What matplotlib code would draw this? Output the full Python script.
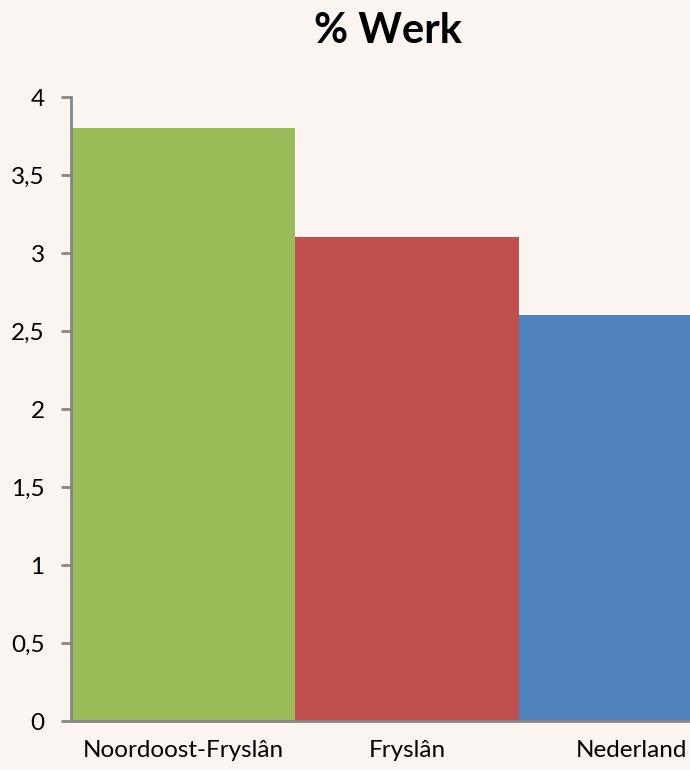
import matplotlib.pyplot as plt

categories = ["Noordoost-Fryslân", "Fryslân", "Nederland"]
values = [3.8, 3.1, 2.6]
colors = ["#9BBB59", "#C0504D", "#4F81BD"]
yticks = [0, 0.5, 1, 1.5, 2, 2.5, 3, 3.5, 4]
ytick_labels = ["0", "0,5", "1", "1,5", "2", "2,5", "3", "3,5", "4"]

plt.rcParams["font.family"] = ["Lato", "DejaVu Sans"]

bg = "#FAF5F1"
axis_col = "#868686"

fig = plt.figure(figsize=(6.9, 7.7), dpi=100, facecolor=bg)
# the third bar runs past the right edge of the picture, as in the original
ax = fig.add_axes([71 / 690, 49 / 770, 672 / 690, 624 / 770])
ax.set_facecolor(bg)

x = range(len(categories))
ax.bar(x, values, width=1.0, color=colors, linewidth=0)

ax.set_xlim(-0.5, 2.5)
ax.set_ylim(0, 4)
ax.set_yticks(yticks)
ax.set_yticklabels(ytick_labels)
ax.set_xticks(list(x))
ax.set_xticklabels(categories)

for side in ["top", "right"]:
    ax.spines[side].set_visible(False)
for side in ["left", "bottom"]:
    ax.spines[side].set_color(axis_col)
    ax.spines[side].set_linewidth(2)

ax.tick_params(axis="y", length=7, width=2, color=axis_col, pad=12, labelsize=17.5)
ax.tick_params(axis="x", length=0, pad=14, labelsize=17.5)

fig.text(388 / 690, 739 / 770, "% Werk", ha="center", va="center",
         fontsize=30, fontweight="bold")

fig.savefig("out.png", dpi=100, facecolor=bg)
